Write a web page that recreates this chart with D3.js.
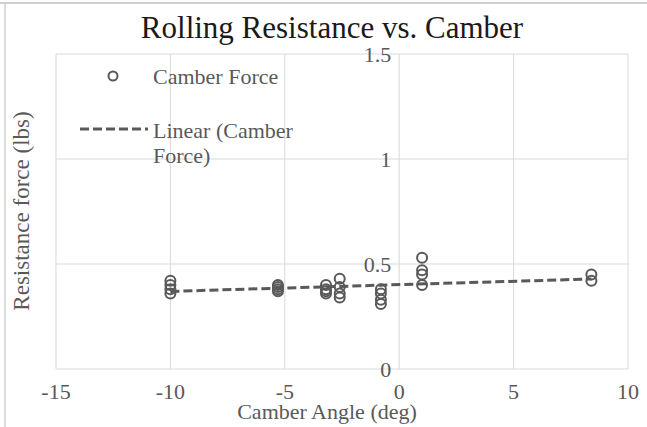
<!DOCTYPE html>
<html>
<head>
<meta charset="utf-8">
<script src="https://cdn.jsdelivr.net/npm/d3@7"></script>
<style>
  body { margin: 0; background: #fff; }
  svg text { font-family: "Liberation Serif", "Times New Roman", serif; }
</style>
</head>
<body>
<script>
// camber angle groups and measured forces
const angles = [-10, -5.3, -3.2, -2.6, -0.8, 1, 8.4];
const forces = [
    [0.42, 0.40, 0.38, 0.36],
    [0.40, 0.39, 0.38, 0.37],
    [0.40, 0.38, 0.37, 0.36],
    [0.43, 0.39, 0.36, 0.34],
    [0.38, 0.36, 0.33, 0.31],
    [0.53, 0.47, 0.45, 0.40],
    [0.45, 0.42]
];
const xTicks = [-15, -10, -5, 0, 5, 10];
const yTicks = [0, 0.5, 1, 1.5];

const width = 647;
const height = 427;
const grey = "#595959";

const svg = d3.select("body").append("svg")
    .attr("width", width)
    .attr("height", height);

const x = d3.scaleLinear().domain([-15, 10]).range([56, 628]);
const y = d3.scaleLinear().domain([0, 1.5]).range([369, 54]);

// page edge left over from the document
svg.append("line").attr("x1", 0).attr("x2", width).attr("y1", 3).attr("y2", 3)
    .attr("stroke", "#d0d0d0").attr("stroke-width", 2);
svg.append("line").attr("x1", 5).attr("x2", 5).attr("y1", 3).attr("y2", height)
    .attr("stroke", "#d0d0d0").attr("stroke-width", 1.5);

// gridlines
svg.append("g").selectAll("line").data(xTicks).join("line")
    .attr("x1", d => x(d)).attr("x2", d => x(d))
    .attr("y1", y(0)).attr("y2", y(1.5))
    .attr("stroke", "#d9d9d9");
svg.append("g").selectAll("line").data(yTicks).join("line")
    .attr("x1", x(-15)).attr("x2", x(10))
    .attr("y1", d => y(d)).attr("y2", d => y(d))
    .attr("stroke", "#d9d9d9");

// x tick labels
svg.append("g").selectAll("text").data(xTicks).join("text")
    .attr("x", d => x(d)).attr("y", 399)
    .attr("text-anchor", "middle")
    .attr("font-size", 22).attr("fill", grey)
    .text(d => d);

// y tick labels sit on the x=0 axis
svg.append("g").selectAll("text").data(yTicks).join("text")
    .attr("x", x(0) - 8).attr("y", d => y(d) + 8)
    .attr("text-anchor", "end")
    .attr("font-size", 22).attr("fill", grey)
    .text(d => d);

// linear trendline from least squares
const pts = [];
angles.forEach((a, i) => forces[i].forEach(f => pts.push([a, f])));
const mx = d3.mean(pts, d => d[0]);
const my = d3.mean(pts, d => d[1]);
const slope = d3.sum(pts, d => (d[0] - mx) * (d[1] - my)) / d3.sum(pts, d => (d[0] - mx) ** 2);
const icpt = my - slope * mx;
const xExt = d3.extent(angles);

svg.append("line")
    .attr("x1", x(xExt[0])).attr("y1", y(icpt + slope * xExt[0]))
    .attr("x2", x(xExt[1])).attr("y2", y(icpt + slope * xExt[1]))
    .attr("stroke", grey).attr("stroke-width", 3)
    .attr("stroke-dasharray", "9,4");

// points
svg.append("g").selectAll("circle").data(pts).join("circle")
    .attr("cx", d => x(d[0])).attr("cy", d => y(d[1]))
    .attr("r", 5)
    .attr("fill", "none")
    .attr("stroke", grey).attr("stroke-width", 2);

// legend
svg.append("circle").attr("cx", 113).attr("cy", 76).attr("r", 4.5)
    .attr("fill", "none").attr("stroke", grey).attr("stroke-width", 2);
svg.append("text").attr("x", 153).attr("y", 84)
    .attr("font-size", 22).attr("fill", grey).text("Camber Force");
svg.append("line").attr("x1", 80).attr("x2", 148).attr("y1", 129).attr("y2", 129)
    .attr("stroke", grey).attr("stroke-width", 3).attr("stroke-dasharray", "9,4");
svg.append("text").attr("x", 153).attr("y", 138)
    .attr("font-size", 22).attr("fill", grey).text("Linear (Camber");
svg.append("text").attr("x", 153).attr("y", 163)
    .attr("font-size", 22).attr("fill", grey).text("Force)");

// titles
svg.append("text").attr("x", 332).attr("y", 38)
    .attr("text-anchor", "middle").attr("font-size", 31).attr("fill", "#1a1a1a")
    .text("Rolling Resistance vs. Camber");
svg.append("text").attr("x", 327).attr("y", 419)
    .attr("text-anchor", "middle").attr("font-size", 22).attr("fill", grey)
    .text("Camber Angle (deg)");
svg.append("text")
    .attr("transform", "translate(29,211) rotate(-90)")
    .attr("text-anchor", "middle").attr("font-size", 23).attr("fill", grey)
    .text("Resistance force (lbs)");
</script>
</body>
</html>
